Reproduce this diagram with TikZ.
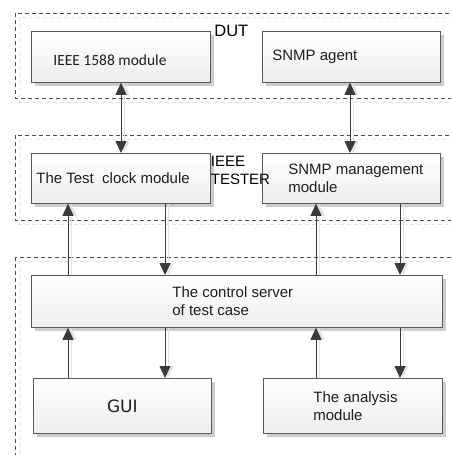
\documentclass[tikz,border=0pt]{standalone}
\usepackage{fontspec}
\setmainfont{Liberation Sans}
\newfontfamily\calibrifont{Carlito}
\newfontfamily\guifont{DejaVu Sans}
\usetikzlibrary{positioning,shadows,arrows.meta}

\definecolor{lineGray}{HTML}{5A5A5A}
\definecolor{arrowGray}{HTML}{3A3A3A}
\definecolor{txtGray}{HTML}{1E1E1E}
\definecolor{ghostGray}{HTML}{E2E2E2}

\tikzset{every picture/.style={line width=0.75pt}}
\tikzset{
  blk/.style={draw=lineGray, top color=white, bottom color=black!7, anchor=north west, inner sep=0pt,
    drop shadow={shadow xshift=3.5pt, shadow yshift=-3.5pt, fill=black!20, opacity=1}},
  txt/.style={inner sep=0pt, text=txtGray, align=left, font=\fontsize{15}{18}\selectfont},
  frame/.style={draw=black!70, dash pattern=on 4pt off 3pt, line width=0.8pt},
  ghost/.style={draw=ghostGray, dash pattern=on 4pt off 3pt, line width=0.8pt},
  >={Triangle[width=11pt,length=12pt]},
  arr/.style={draw=arrowGray, fill=arrowGray, line width=0.8pt,
    preaction={draw=ghostGray, fill=ghostGray, transform canvas={xshift=3pt}}}
}

\begin{document}
\begin{tikzpicture}[x=1pt,y=1pt,yscale=-1,xscale=1]
        \useasboundingbox (0,0) rectangle (451,455);
        \clip (0,0) rectangle (451,455);

        %Shape: Dashed frames (DUT, tester, control)
        \draw[ghost] (19,17) rectangle (480,102);
        \draw[frame] (15,13) rectangle (476,98);
        \draw[ghost] (19,139) rectangle (480,224);
        \draw[frame] (15,135) rectangle (476,220);
        \draw[ghost] (19,261) rectangle (480,480);
        \draw[frame] (15,257) rectangle (476,476);

        %Straight Lines: columns of the connectors
        \coordinate (colA) at (121,0);
        \coordinate (colB) at (350,0);
        \coordinate (colC) at (68,0);
        \coordinate (colD) at (165,0);
        \coordinate (colE) at (316,0);
        \coordinate (colF) at (400,0);

        %Shape: Boxes
        \node[blk, minimum width=179pt, minimum height=51pt] (ieee) at (31,31) {};
        \node[blk, minimum width=178pt, minimum height=51pt] (snmp) at (262,31) {};
        \node[blk, minimum width=179pt, minimum height=50pt] (clock) at (31,153) {};
        \node[blk, minimum width=178pt, minimum height=50pt] (mgmt) at (262,153) {};
        \node[blk, minimum width=411pt, minimum height=52pt] (server) at (31,275) {};
        \node[blk, minimum width=178pt, minimum height=55pt] (gui) at (33,378) {};
        \node[blk, minimum width=179pt, minimum height=55pt] (analysis) at (263,378) {};

        % Text Node
        \node[txt, right=22pt of ieee.west, yshift=-3pt, font=\calibrifont\fontsize{15.5}{18}\selectfont] (ieeeT) {IEEE 1588 module};
        % Text Node
        \node[txt, right=10pt of snmp.west] (snmpT) {SNMP agent};
        % Text Node
        \node[txt, right=5pt of clock.west] (clockT) {The Test\ \ clock module};
        % Text Node
        \node[txt, right=26pt of mgmt.west] (mgmtT) {SNMP management\\module};
        % Text Node
        \node[txt, right=141pt of server.west] (serverT) {The control server\\of test case};
        % Text Node
        \node[txt, font=\guifont\fontsize{17}{20}\selectfont] (guiT) at (gui.center) {GUI};
        % Text Node
        \node[txt, right=50pt of analysis.west] (analysisT) {The analysis\\module};
        % Text Node
        \node[txt, anchor=north west, font=\fontsize{16.5}{18}\selectfont, text=black] (dutT) at (214,25) {DUT};
        % Text Node
        \node[txt, anchor=north west, text=black] (testerT) at (210.5,156) {IEEE\\TESTER};

        %Arrows
        \draw[arr, <->] (ieee.south -| colA) -- (clock.north -| colA);
        \draw[arr, <->] (snmp.south -| colB) -- (mgmt.north -| colB);

        \draw[arr, ->] (server.north -| colC) -- (clock.south -| colC);
        \draw[arr, ->] (clock.south -| colD) -- (server.north -| colD);
        \draw[arr, ->] (server.north -| colE) -- (mgmt.south -| colE);
        \draw[arr, ->] (mgmt.south -| colF) -- (server.north -| colF);

        \draw[arr, ->] (gui.north -| colC) -- (server.south -| colC);
        \draw[arr, ->] (server.south -| colD) -- (gui.north -| colD);
        \draw[arr, ->] (analysis.north -| colE) -- (server.south -| colE);
        \draw[arr, ->] (server.south -| colF) -- (analysis.north -| colF);

    \end{tikzpicture}
\end{document}
